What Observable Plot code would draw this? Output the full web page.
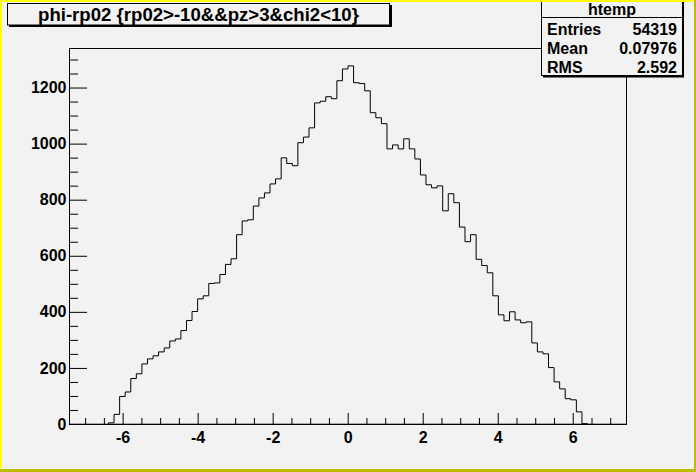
<!DOCTYPE html>
<html>
<head>
<meta charset="utf-8">
<script src="https://cdn.jsdelivr.net/npm/d3@7"></script>
<script src="https://cdn.jsdelivr.net/npm/@observablehq/plot@0.6"></script>
<style>
  html, body { margin: 0; padding: 0; background: #f2f2f2; }
  #chart { width: 696px; height: 472px; }
</style>
</head>
<body>
<div id="chart"></div>
<script>
// ---- data ----
const titleText = "phi-rp02 {rp02>-10&&pz>3&chi2<10}";
const histName = "htemp";
const statLabels = ["Entries", "Mean", "RMS"];
const statValues = ["54319", "0.07976", "2.592"];
const xLow = -7.43;
const binWidth = 0.1485;
const counts = [
  0, 0, 0, 0, 0, 0, 0, 6, 36, 100,
  116, 164, 181, 216, 234, 245, 259, 273, 298, 305,
  335, 371, 403, 448, 459, 503, 505, 535, 571, 591,
  677, 726, 730, 779, 808, 826, 858, 876, 951, 931,
  923, 1005, 1025, 1058, 1147, 1153, 1169, 1162, 1226, 1268,
  1279, 1219, 1216, 1190, 1112, 1094, 1073, 983, 997, 983,
  1019, 983, 947, 890, 855, 844, 851, 762, 823, 791,
  704, 652, 677, 589, 567, 541, 459, 391, 370, 402,
  373, 363, 366, 291, 259, 252, 203, 152, 127, 92,
  88, 45, 3, 0, 0, 0, 0, 0, 0, 0
];
const xMajor = [-6, -4, -2, 0, 2, 4, 6];
const xMinor = [-7, -6.5, -5.5, -5, -4.5, -3.5, -3, -2.5, -1.5, -1, -0.5, 0.5, 1, 1.5, 2.5, 3, 3.5, 4.5, 5, 5.5, 6.5, 7];
const yMajor = [0, 200, 400, 600, 800, 1000, 1200];
const yMinor = [50, 100, 150, 250, 300, 350, 450, 500, 550, 650, 700, 750, 850, 900, 950, 1050, 1100, 1150, 1250, 1300];
const yMax = 1341;

// ---- build histogram outline ----
const nBins = counts.length;
const xHigh = xLow + nBins * binWidth;
const steps = d3.range(nBins + 1).map(i => ({
  x: xLow + i * binWidth,
  y: counts[Math.min(i, nBins - 1)]
}));

const W = 696, H = 472;
const mL = 69, mR = 70, mT = 48, mB = 48;
const fw = W - mL - mR, fh = H - mT - mB;
const font = "'Liberation Sans', Arial, Helvetica, sans-serif";

const chart = Plot.plot({
  width: W,
  height: H,
  marginLeft: mL,
  marginRight: mR,
  marginTop: mT,
  marginBottom: mB,
  style: { background: "#f2f2f2", fontFamily: font, fontWeight: "bold", color: "black", overflow: "visible" },
  x: { domain: [xLow, xHigh], axis: null, label: null },
  y: { domain: [0, yMax], axis: null, label: null },
  marks: [
    Plot.ruleY([0], { stroke: "#a8a8a8", dy: -1 }),
    Plot.line(steps, { x: "x", y: "y", curve: "step-after", stroke: "black", strokeWidth: 1 }),
    Plot.ruleX(xMinor, { x: d => d, insetTop: fh - 6, stroke: "black" }),
    Plot.ruleX(xMajor, { x: d => d, insetTop: fh - 11, stroke: "black" }),
    Plot.ruleY(yMinor, { y: d => d, insetRight: fw - 9, stroke: "black" }),
    Plot.ruleY(yMajor, { y: d => d, insetRight: fw - 18, stroke: "black" }),
    Plot.frame({ stroke: "black" }),
    Plot.axisX(xMajor, { label: null, tickSize: 0, tickPadding: 7, tickFormat: d => String(d), fontSize: 16, fontWeight: "bold", fill: "black" }),
    Plot.axisY(yMajor, { label: null, tickSize: 0, tickPadding: 3, tickFormat: d => String(d), fontSize: 16, fontWeight: "bold", fill: "black" })
  ]
});

document.getElementById("chart").appendChild(chart);

// ---- decorations: title box, stats box, canvas border ----
const svg = d3.select(chart);
const bg = "#f2f2f2";

// title box
const tb = svg.append("g");
tb.append("rect").attr("x", 9).attr("y", 5).attr("width", 383).attr("height", 22).attr("fill", "black");
tb.append("rect").attr("x", 7.5).attr("y", 3.5).attr("width", 382).attr("height", 21.5)
  .attr("fill", bg).attr("stroke", "black").attr("stroke-width", 1);
tb.append("text").attr("x", 198.5).attr("y", 20.5).attr("text-anchor", "middle")
  .attr("font-family", font).attr("font-weight", "bold").attr("font-size", 18.6)
  .attr("fill", "black").text(titleText);

// stats box
const sb = svg.append("g");
sb.append("rect").attr("x", 543).attr("y", 2).attr("width", 141).attr("height", 75.5).attr("fill", "black");
sb.append("rect").attr("x", 541.5).attr("y", 0.5).attr("width", 141).attr("height", 75)
  .attr("fill", bg).attr("stroke", "black").attr("stroke-width", 1);
sb.append("line").attr("x1", 541.5).attr("x2", 682.5).attr("y1", 17.5).attr("y2", 17.5)
  .attr("stroke", "black");
sb.append("text").attr("x", 612).attr("y", 14.5).attr("text-anchor", "middle")
  .attr("font-family", font).attr("font-weight", "bold").attr("font-size", 16)
  .attr("fill", "black").text(histName);
statLabels.forEach((lab, i) => {
  const yy = 35 + i * 19;
  sb.append("text").attr("x", 547).attr("y", yy).attr("text-anchor", "start")
    .attr("font-family", font).attr("font-weight", "bold").attr("font-size", 16)
    .attr("fill", "black").text(lab);
  sb.append("text").attr("x", 677).attr("y", yy).attr("text-anchor", "end")
    .attr("font-family", font).attr("font-weight", "bold").attr("font-size", 16)
    .attr("fill", "black").text(statValues[i]);
});

// canvas bevel border
const bd = svg.append("g");
bd.append("rect").attr("x", 0).attr("y", H - 3).attr("width", W).attr("height", 3).attr("fill", "#bcbc00");
bd.append("rect").attr("x", W - 2).attr("y", 0).attr("width", 2).attr("height", H).attr("fill", "#bcbc00");
bd.append("rect").attr("x", 0).attr("y", 0).attr("width", W - 2).attr("height", 2).attr("fill", "#ffff00");
bd.append("rect").attr("x", 0).attr("y", 0).attr("width", 2).attr("height", H - 3).attr("fill", "#ffff00");
</script>
</body>
</html>
